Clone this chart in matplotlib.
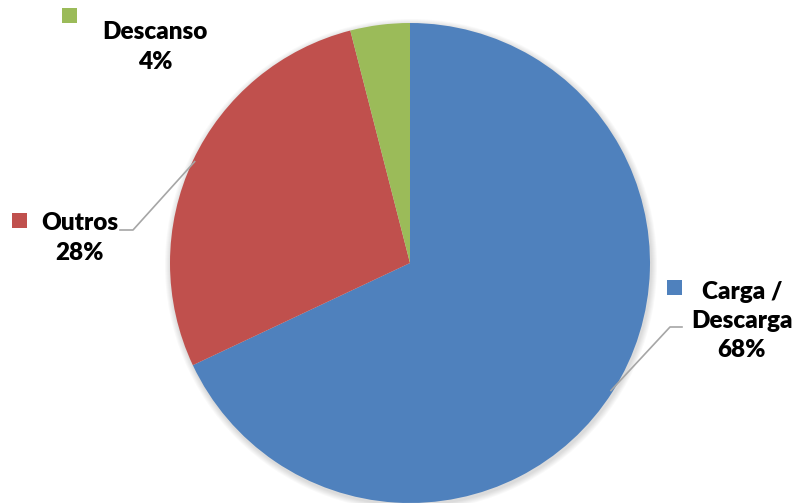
import numpy as np
import matplotlib.pyplot as plt
from matplotlib.patches import Rectangle, Circle

labels = ["Carga /\nDescarga", "Outros", "Descanso"]
values = [68, 28, 4]
colors = ["#4F81BD", "#C0504D", "#9BBB59"]

fig = plt.figure(figsize=(8, 5.03), dpi=100)
ax = fig.add_axes([0, 0, 1, 1])

cx, cy, r = 410, 240, 240

# soft shadow round the pie
for k in range(6):
    ax.add_patch(Circle((cx + 1, cy - 2), r + 1 + k, color="#000000", alpha=0.025, lw=0, zorder=0))

wedges, _ = ax.pie(values, colors=colors, startangle=90, counterclock=False,
                   center=(cx, cy), radius=r, frame=True,
                   wedgeprops=dict(linewidth=0))
ax.set_xlim(0, 800)
ax.set_ylim(0, 503)
ax.set_aspect("equal")
ax.axis("off")

font = dict(family="Lato", fontweight="heavy", fontsize=17.5, color="black")

# label text and markers
ax.text(155, 503 - 47, "Descanso\n4%", ha="center", va="center", linespacing=1.4, **font)
ax.add_patch(Rectangle((62, 503 - 23), 15, 15, color=colors[2], lw=0))

ax.text(80, 503 - 238, "Outros\n28%", ha="center", va="center", linespacing=1.45, **font)
ax.add_patch(Rectangle((12, 503 - 228), 15, 15, color=colors[1], lw=0))

ax.text(742, 503 - 321, "Carga /\nDescarga\n68%", ha="center", va="center", linespacing=1.4, **font)
ax.add_patch(Rectangle((667, 503 - 295), 15, 15, color=colors[0], lw=0))

# leader lines from the wedge middles
for w, (ex, ey), (hx, hy) in [(wedges[1], (133, 503 - 230), (120, 503 - 230)),
                              (wedges[0], (670, 503 - 327), (682, 503 - 327))]:
    ang = np.deg2rad((w.theta1 + w.theta2) / 2)
    px, py = cx + (r - 2) * np.cos(ang), cy + (r - 2) * np.sin(ang)
    ax.plot([px, ex, hx], [py, ey, hy], color="#A6A6A6", lw=1.2)

fig.savefig("out.png", dpi=100)
